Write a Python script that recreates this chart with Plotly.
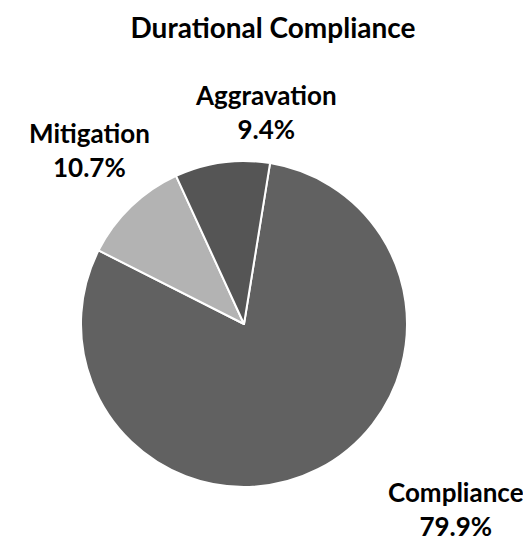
import plotly.graph_objects as go

W, H = 531, 542

labels = ['Compliance', 'Mitigation', 'Aggravation']
values = [79.9, 10.7, 9.4]
colors = ['#616161', '#b3b3b3', '#555555']

# label spots (pixels from top-left)
label_px = {
    'Compliance': (448, 501),
    'Mitigation': (81, 142),
    'Aggravation': (258, 104),
}

fig = go.Figure(
    data=[
        go.Pie(
            labels=labels,
            values=values,
            sort=False,
            direction='clockwise',
            rotation=9.2,
            marker=dict(colors=colors, line=dict(color='white', width=2)),
            textinfo='none',
            hoverinfo='label+percent',
            domain=dict(x=[73 / W, 399 / W], y=[63 / H, 389 / H]),
        )
    ]
)

total = sum(values)
annotations = []
for lab, val in zip(labels, values):
    px_x, px_y = label_px[lab]
    annotations.append(dict(
        x=px_x / W, y=1 - px_y / H, xref='paper', yref='paper',
        text=f'<b>{lab}<br>{val / total * 100:.1f}%</b>',
        showarrow=False, xanchor='center', yanchor='middle',
        font=dict(family='Lato', size=26, color='black'),
    ))

fig.update_layout(
    width=W, height=H,
    margin=dict(l=0, r=0, t=0, b=0),
    paper_bgcolor='white',
    plot_bgcolor='white',
    showlegend=False,
    title=dict(
        text='<b>Durational Compliance</b>',
        x=265 / W, xanchor='center', y=1 - 20 / H, yanchor='middle',
        font=dict(family='Lato', size=28, color='black'),
    ),
    annotations=annotations,
)

fig.write_html('out.html')
